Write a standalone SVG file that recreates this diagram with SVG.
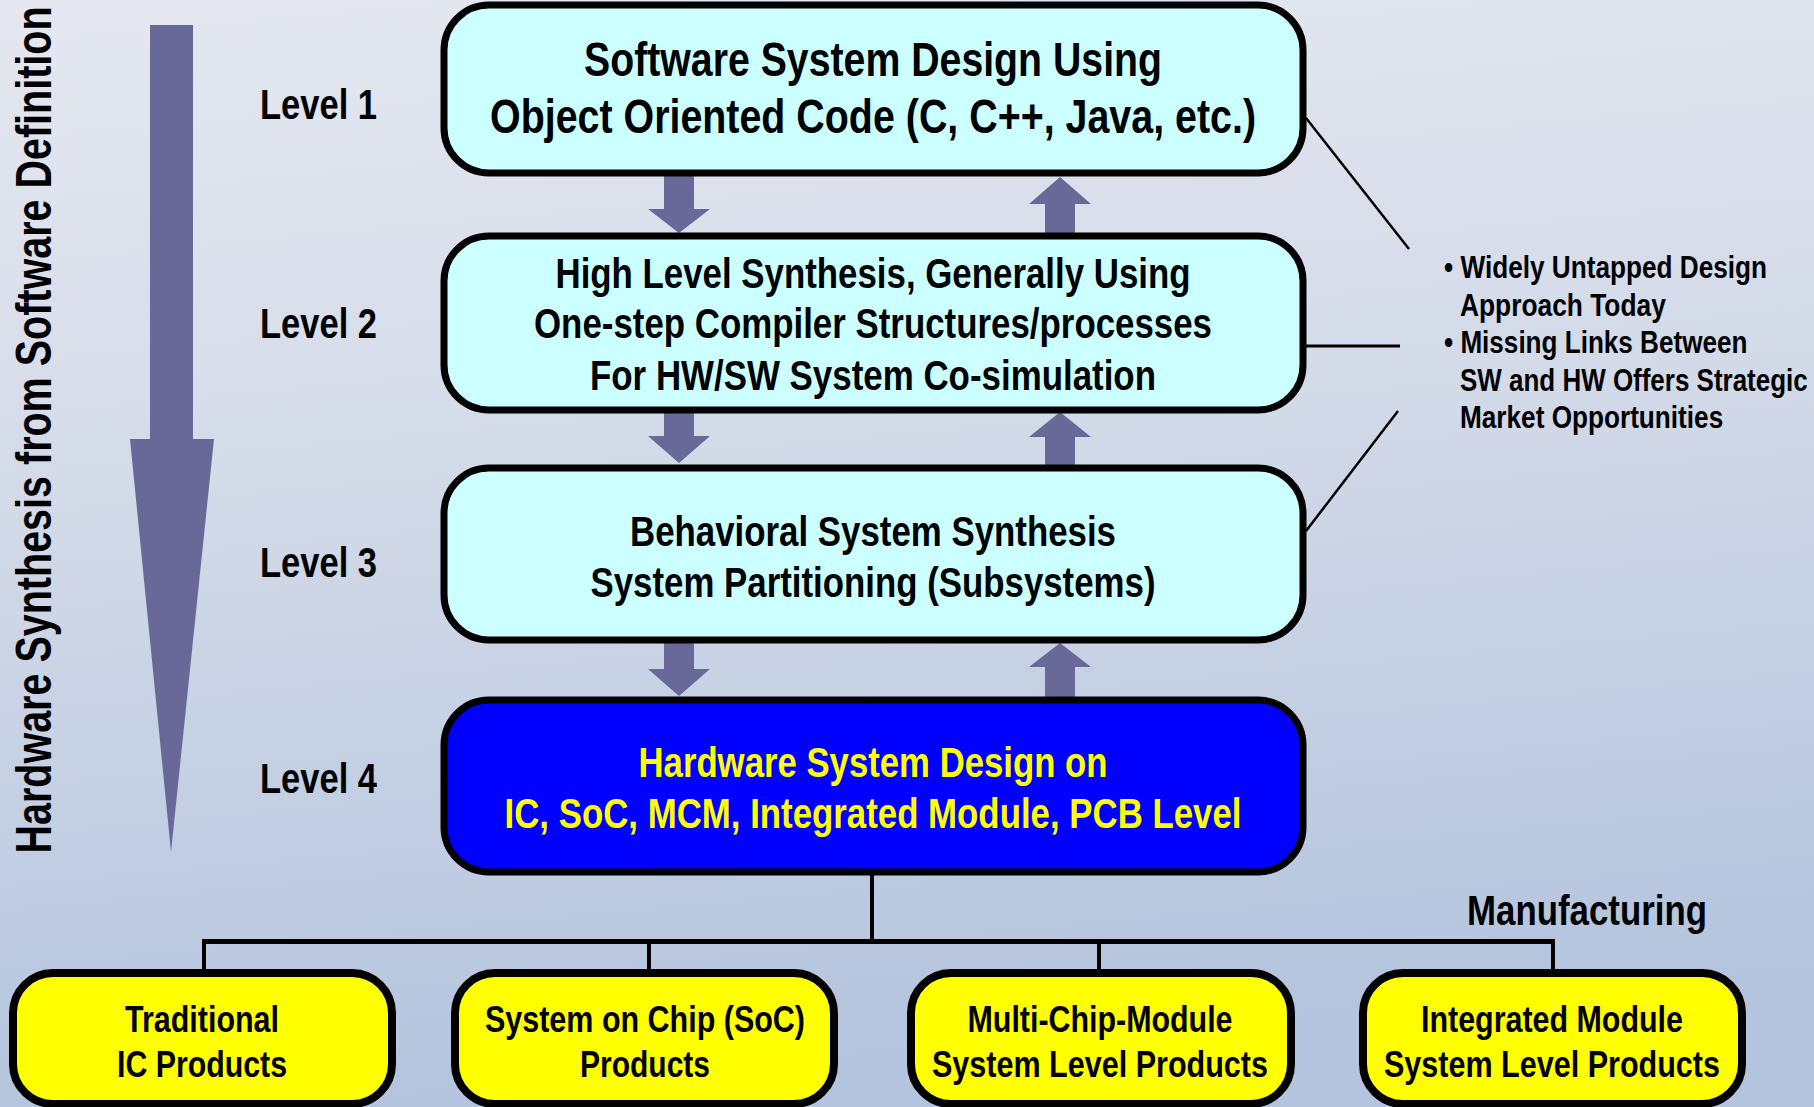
<svg xmlns="http://www.w3.org/2000/svg" width="1814" height="1107" viewBox="0 0 1814 1107">
  <defs>
    <linearGradient id="bg" x1="0" y1="0" x2="0.15" y2="1">
      <stop offset="0" stop-color="#e5e8f0"/>
      <stop offset="0.45" stop-color="#d3dae8"/>
      <stop offset="1" stop-color="#b4c4de"/>
    </linearGradient>
    <style>
      .nar { font-family: 'Liberation Sans Narrow', 'Liberation Sans', Arial, sans-serif; font-weight: bold; font-stretch: condensed; }
      .wide { font-family: 'Liberation Sans', Arial, sans-serif; font-weight: bold; }
      .box { stroke: #000; stroke-width: 7; }
      .sw { fill: #ccffff; }
      .hw { fill: #0000ff; }
      .prod { fill: #ffff00; stroke: #000; stroke-width: 8; }
      .t48 { font-size: 48px; fill: #000; text-anchor: middle; }
      .t43 { font-size: 43px; fill: #000; text-anchor: middle; }
      .t43y { font-size: 43px; fill: #ffff00; text-anchor: middle; }
      .lvl { font-size: 42px; fill: #000; }
      .note { font-size: 31px; fill: #000; }
      .t36 { font-size: 36px; fill: #000; text-anchor: middle; }
      .flow { fill: #686899; }
      .line { stroke: #000; fill: none; }
    </style>
  </defs>

  <!-- backdrop -->
  <rect x="0" y="0" width="1814" height="1107" fill="url(#bg)"/>

  <!-- main flow arrow and its caption (condensed by horizontal scaling) -->
  <g id="flow-arrow">
    <polygon class="flow" points="150,25 193,25 193,439 214,439 171,852 130,439 150,439"/>
    <text class="wide" transform="translate(51,430) rotate(-90) scale(0.806,1)" x="0" y="0" text-anchor="middle" textLength="1051" lengthAdjust="spacingAndGlyphs" style="font-size:49px;fill:#000">Hardware Synthesis from Software Definition</text>
  </g>

  <!-- level labels -->
  <g id="levels">
    <text class="nar lvl" x="260" y="119" textLength="117" lengthAdjust="spacingAndGlyphs">Level 1</text>
    <text class="nar lvl" x="260" y="338" textLength="117" lengthAdjust="spacingAndGlyphs">Level 2</text>
    <text class="nar lvl" x="260" y="577" textLength="117" lengthAdjust="spacingAndGlyphs">Level 3</text>
    <text class="nar lvl" x="260" y="793" textLength="117" lengthAdjust="spacingAndGlyphs">Level 4</text>
  </g>

  <!-- connectors -->
  <g id="connectors">
    <!-- refinement (down) and feedback (up) arrows between levels -->
    <polygon class="flow" points="664,170 694,170 694,209 710,209 679,233 648,209 664,209"/>
    <polygon class="flow" points="1045,238 1075,238 1075,204 1091,204 1060,177 1029,204 1045,204"/>
    <polygon class="flow" points="664,405 694,405 694,436 710,436 679,463 648,436 664,436"/>
    <polygon class="flow" points="1045,470 1075,470 1075,437 1091,437 1060,412 1029,437 1045,437"/>
    <polygon class="flow" points="664,636 694,636 694,669 710,669 679,696 648,669 664,669"/>
    <polygon class="flow" points="1045,702 1075,702 1075,667 1091,667 1060,643 1029,667 1045,667"/>

    <!-- callout lines to the notes -->
    <line class="line" x1="1306" y1="118" x2="1409" y2="249" stroke-width="2.5"/>
    <line class="line" x1="1306" y1="346" x2="1400" y2="346" stroke-width="3"/>
    <line class="line" x1="1398" y1="411" x2="1306" y2="531" stroke-width="2.5"/>

    <!-- manufacturing tree -->
    <line class="line" x1="872" y1="860" x2="872" y2="943" stroke-width="4"/>
    <line class="line" x1="202" y1="941.5" x2="1555" y2="941.5" stroke-width="5"/>
    <line class="line" x1="204" y1="941" x2="204" y2="975" stroke-width="4"/>
    <line class="line" x1="649" y1="941" x2="649" y2="975" stroke-width="4"/>
    <line class="line" x1="1099" y1="941" x2="1099" y2="975" stroke-width="4"/>
    <line class="line" x1="1553" y1="941" x2="1553" y2="975" stroke-width="4"/>
  </g>

  <!-- level nodes -->
  <g id="node-level1">
    <rect class="box sw" x="444" y="5" width="859" height="168" rx="45"/>
    <text class="nar t48" x="873" y="76" textLength="578" lengthAdjust="spacingAndGlyphs">Software System Design Using</text>
    <text class="nar t48" x="873" y="133" textLength="766" lengthAdjust="spacingAndGlyphs">Object Oriented Code (C, C++, Java, etc.)</text>
  </g>
  <g id="node-level2">
    <rect class="box sw" x="444" y="236" width="859" height="174" rx="45"/>
    <text class="nar t43" x="873" y="288" textLength="635" lengthAdjust="spacingAndGlyphs">High Level Synthesis, Generally Using</text>
    <text class="nar t43" x="873" y="338" textLength="678" lengthAdjust="spacingAndGlyphs">One-step Compiler Structures/processes</text>
    <text class="nar t43" x="873" y="390" textLength="566" lengthAdjust="spacingAndGlyphs">For HW/SW System Co-simulation</text>
  </g>
  <g id="node-level3">
    <rect class="box sw" x="444" y="468" width="859" height="172" rx="45"/>
    <text class="nar t43" x="873" y="546" textLength="486" lengthAdjust="spacingAndGlyphs">Behavioral System Synthesis</text>
    <text class="nar t43" x="873" y="597" textLength="565" lengthAdjust="spacingAndGlyphs">System Partitioning (Subsystems)</text>
  </g>
  <g id="node-level4">
    <rect class="box hw" x="444" y="700" width="859" height="172" rx="45"/>
    <text class="nar t43y" x="873" y="777" textLength="469" lengthAdjust="spacingAndGlyphs">Hardware System Design on</text>
    <text class="nar t43y" x="873" y="828" textLength="737" lengthAdjust="spacingAndGlyphs">IC, SoC, MCM, Integrated Module, PCB Level</text>
  </g>

  <!-- notes (condensed by horizontal scaling) -->
  <g id="notes">
    <text class="wide note" transform="translate(1444,278) scale(0.82,1)" x="0" y="0" textLength="394" lengthAdjust="spacingAndGlyphs">• Widely Untapped Design</text>
    <text class="wide note" transform="translate(1460,316) scale(0.82,1)" x="0" y="0" textLength="251" lengthAdjust="spacingAndGlyphs">Approach Today</text>
    <text class="wide note" transform="translate(1444,353) scale(0.82,1)" x="0" y="0" textLength="370" lengthAdjust="spacingAndGlyphs">• Missing Links Between</text>
    <text class="wide note" transform="translate(1460,391) scale(0.82,1)" x="0" y="0" textLength="424" lengthAdjust="spacingAndGlyphs">SW and HW Offers Strategic</text>
    <text class="wide note" transform="translate(1460,428) scale(0.82,1)" x="0" y="0" textLength="321" lengthAdjust="spacingAndGlyphs">Market Opportunities</text>
  </g>

  <g id="manufacturing-label">
    <text class="nar lvl" x="1467" y="925" textLength="240" lengthAdjust="spacingAndGlyphs">Manufacturing</text>
  </g>

  <!-- product nodes -->
  <g id="node-ic">
    <rect class="prod" x="13" y="973" width="379" height="131" rx="40"/>
    <text class="nar t36" x="202" y="1032" textLength="154" lengthAdjust="spacingAndGlyphs">Traditional</text>
    <text class="nar t36" x="202" y="1077" textLength="170" lengthAdjust="spacingAndGlyphs">IC Products</text>
  </g>
  <g id="node-soc">
    <rect class="prod" x="455" y="973" width="379" height="131" rx="40"/>
    <text class="nar t36" x="645" y="1032" textLength="320" lengthAdjust="spacingAndGlyphs">System on Chip (SoC)</text>
    <text class="nar t36" x="645" y="1077" textLength="130" lengthAdjust="spacingAndGlyphs">Products</text>
  </g>
  <g id="node-mcm">
    <rect class="prod" x="911" y="973" width="380" height="131" rx="40"/>
    <text class="nar t36" x="1100" y="1032" textLength="265" lengthAdjust="spacingAndGlyphs">Multi-Chip-Module</text>
    <text class="nar t36" x="1100" y="1077" textLength="336" lengthAdjust="spacingAndGlyphs">System Level Products</text>
  </g>
  <g id="node-module">
    <rect class="prod" x="1363" y="973" width="379" height="131" rx="40"/>
    <text class="nar t36" x="1552" y="1032" textLength="262" lengthAdjust="spacingAndGlyphs">Integrated Module</text>
    <text class="nar t36" x="1552" y="1077" textLength="336" lengthAdjust="spacingAndGlyphs">System Level Products</text>
  </g>
</svg>
